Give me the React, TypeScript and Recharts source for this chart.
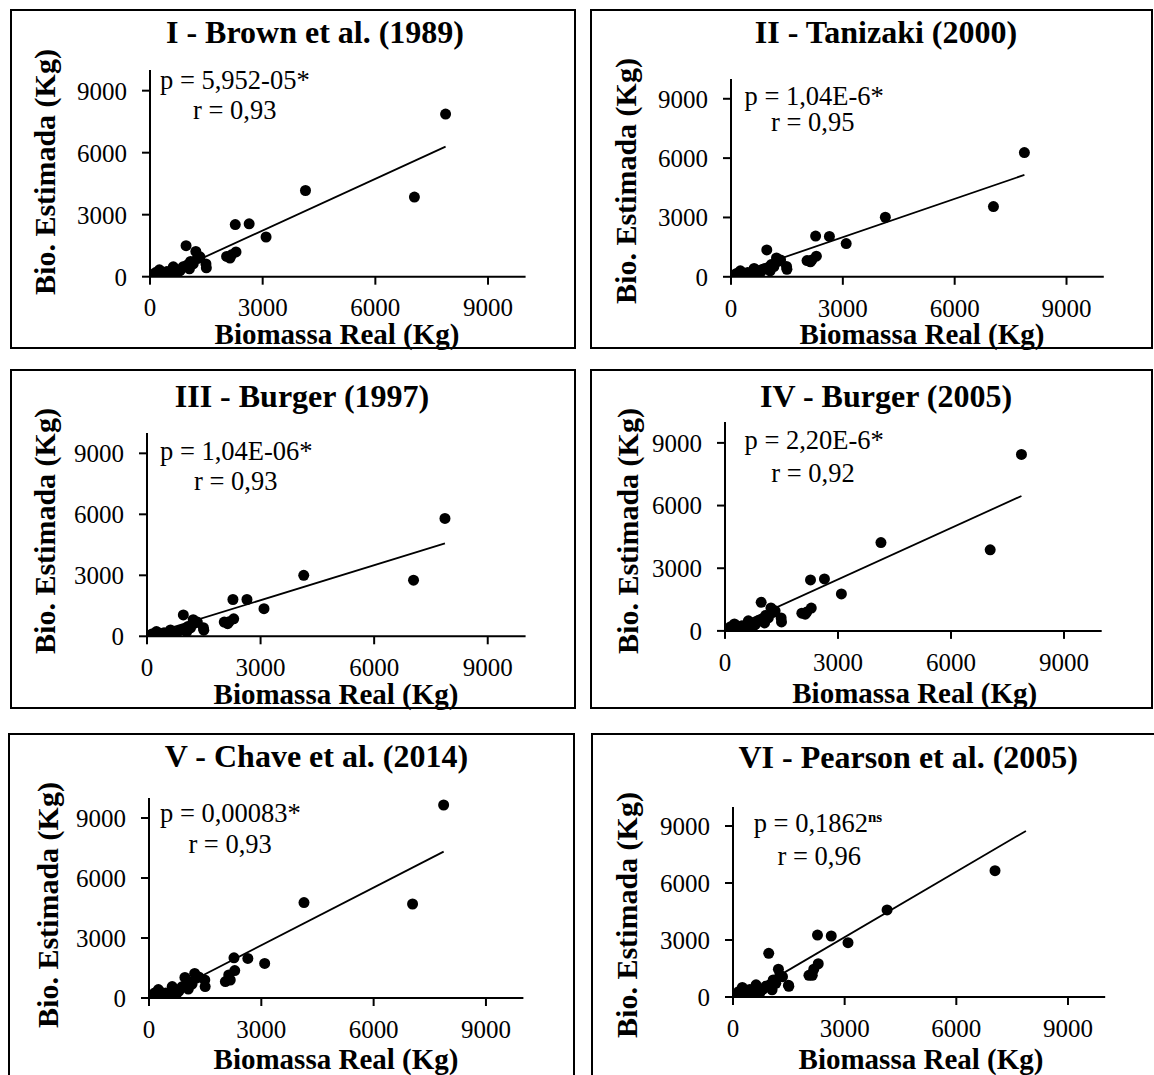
import React from 'react';
import { ScatterChart, Scatter, XAxis, YAxis } from 'recharts';

const FONT = '"Liberation Serif", "Times New Roman", Times, serif';

// Real biomass (kg) of the sampled trees (shared x values)
const realBiomass = [50, 100, 150, 200, 250, 300, 350, 450, 550, 620, 650, 720, 800, 880, 960, 990, 1050, 1080, 1150, 1220, 1260, 1330, 1490, 1500, 2040, 2130, 2170, 2270, 2290, 2640, 3090, 4140, 7040, 7870];

// Estimated biomass (kg) per allometric equation
const brown1989 = [60, 120, 200, 90, 330, 250, 180, 250, 200, 480, 280, 150, 300, 480, 1500, 560, 380, 740, 620, 1220, 880, 960, 620, 430, 980, 900, 1060, 2520, 1200, 2560, 1920, 4170, 3850, 7870];
const tanizaki2000 = [50, 100, 170, 80, 300, 220, 150, 220, 160, 420, 230, 120, 250, 400, 1360, 450, 300, 620, 520, 950, 780, 850, 520, 380, 820, 760, 850, 2060, 1040, 2040, 1680, 3010, 3550, 6280];
const burger1997 = [40, 80, 130, 60, 230, 170, 120, 170, 130, 310, 180, 100, 200, 300, 1050, 350, 230, 480, 420, 820, 650, 700, 420, 300, 700, 620, 720, 1810, 860, 1810, 1360, 3000, 2760, 5800];
const burger2005 = [60, 120, 200, 90, 330, 250, 180, 250, 200, 480, 280, 150, 300, 480, 1370, 560, 380, 740, 620, 1100, 880, 960, 620, 430, 850, 800, 900, 2440, 1090, 2490, 1770, 4230, 3880, 8450];
const chave2014 = [60, 130, 250, 100, 420, 300, 200, 250, 220, 570, 300, 150, 350, 560, 1030, 650, 450, 800, 700, 1230, 1000, 1050, 900, 570, 820, 1150, 900, 2010, 1370, 1980, 1730, 4770, 4700, 9650];
const pearson2005 = [70, 150, 280, 120, 500, 380, 260, 400, 300, 640, 380, 220, 400, 560, 2300, 650, 380, 900, 720, 1460, 1150, 1070, 620, 560, 1140, 1140, 1460, 3260, 1750, 3210, 2860, 4580, 6650, null];

// Trend lines (start, end)
const trendX = [350, 7870];
const trendBrown1989 = [30, 6290];
const trendTanizaki2000 = [290, 5150];
const trendBurger1997 = [255, 4570];
const trendBurger2005 = [290, 6460];
const trendChave2014 = [84, 7320];
const trendPearson2005 = [108, 8740];

const axisTicks = [0, 3000, 6000, 9000];
const axisDomain = [0, 10000];

const panelTitles = ['I - Brown et al. (1989)', 'II - Tanizaki (2000)', 'III - Burger (1997)', 'IV - Burger (2005)', 'V - Chave et al. (2014)', 'VI - Pearson et al. (2005)'];
const pLabels = ['p = 5,952-05*', 'p = 1,04E-6*', 'p = 1,04E-06*', 'p = 2,20E-6*', 'p = 0,00083*', 'p = 0,1862'];
const pSuperscripts = ['', '', '', '', '', 'ns'];
const rLabels = ['r = 0,93', 'r = 0,95', 'r = 0,93', 'r = 0,92', 'r = 0,93', 'r = 0,96'];
const xAxisLabel = 'Biomassa Real (Kg)';
const yAxisLabel = 'Bio. Estimada (Kg)';

const estimates = [brown1989, tanizaki2000, burger1997, burger2005, chave2014, pearson2005];
const trends = [trendBrown1989, trendTanizaki2000, trendBurger1997, trendBurger2005, trendChave2014, trendPearson2005];

// Layout (pixels)
type Layout = {
  box: number[];
  plot: number[];
  title: number[];
  ylab: number[];
  xlab: number[];
  p: number[];
  r: number[];
};
const layouts: Layout[] = [
  { box: [10, 9, 576, 349], plot: [150, 70.3, 525.6, 277], title: [315, 43], ylab: [44, 172], xlab: [337, 344], p: [160, 89], r: [193, 119] },
  { box: [590, 9, 1153, 349], plot: [731, 79.2, 1103.8, 277], title: [886, 43], ylab: [625, 181], xlab: [922, 344], p: [744.5, 105], r: [771, 131] },
  { box: [10, 369, 576, 709], plot: [147, 432.7, 525.6, 636], title: [302, 406.7], ylab: [44, 531], xlab: [336, 704], p: [160, 460], r: [194, 490] },
  { box: [590, 369, 1153, 709], plot: [725, 422.1, 1101.7, 631], title: [886, 406.7], ylab: [627, 531], xlab: [914.7, 702.5], p: [744.5, 449.3], r: [771.3, 481.7] },
  { box: [8, 733, 575, 1100], plot: [149, 798, 523.4, 998], title: [316.5, 766.7], ylab: [47.8, 905], xlab: [336, 1069], p: [160, 821.7], r: [188.4, 852.7] },
  { box: [591, 733, 1160, 1100], plot: [733, 807, 1105.2, 997], title: [908.2, 768.3], ylab: [626.7, 915], xlab: [921, 1069], p: [753.7, 831.7], r: [777.6, 865] },
];

const ML = 110;
const MT = 12;
const MR = 12;
const MB = 70;

const Dot = (props: any) => {
  if (props.cx == null || props.cy == null) return <g />;
  return <circle cx={props.cx} cy={props.cy} r={5.5} fill="#000" />;
};
const NoDot = () => <g />;

const tickStyle = { fontSize: 25, fill: '#000', fontFamily: FONT };

function Panel({ idx }: { idx: number }) {
  const lay = layouts[idx];
  const [pl, pt, pr, pb] = lay.plot;
  const w = pr - pl + ML + MR;
  const h = pb - pt + MT + MB;
  const ys = estimates[idx];
  const points = realBiomass
    .map((x, i) => ({ x, y: ys[i] }))
    .filter((d) => d.y !== null && d.y !== undefined);
  const tr = trends[idx];
  const line = trendX.map((x, i) => ({ x, y: tr[i] }));
  return (
    <div style={{ position: 'absolute', left: pl - ML, top: pt - MT, width: w, height: h }}>
      <ScatterChart width={w} height={h} margin={{ top: MT, right: MR, bottom: 0, left: 0 }}>
        <XAxis
          type="number"
          dataKey="x"
          domain={axisDomain}
          ticks={axisTicks}
          interval={0}
          height={MB}
          tickSize={8}
          tickMargin={14}
          axisLine={{ stroke: '#000', strokeWidth: 2 }}
          tickLine={{ stroke: '#000', strokeWidth: 2 }}
          tick={tickStyle}
          allowDataOverflow
        />
        <YAxis
          type="number"
          dataKey="y"
          domain={axisDomain}
          ticks={axisTicks}
          interval={0}
          width={ML}
          tickSize={8}
          tickMargin={15}
          axisLine={{ stroke: '#000', strokeWidth: 2 }}
          tickLine={{ stroke: '#000', strokeWidth: 2 }}
          tick={tickStyle}
          allowDataOverflow
        />
        <Scatter data={points} shape={Dot} isAnimationActive={false} />
        <Scatter
          data={line}
          shape={NoDot}
          line={{ stroke: '#000', strokeWidth: 1.8 }}
          lineType="joint"
          isAnimationActive={false}
        />
      </ScatterChart>
    </div>
  );
}

export default function App() {
  return (
    <div style={{ position: 'absolute', left: 0, top: 0, width: 1154, height: 1075, overflow: 'hidden', background: '#fff' }}>
      {layouts.map((lay, i) => (
        <div
          key={'box' + i}
          style={{
            position: 'absolute',
            left: lay.box[0],
            top: lay.box[1],
            width: lay.box[2] - lay.box[0],
            height: lay.box[3] - lay.box[1],
            border: '2px solid #000',
            boxSizing: 'border-box',
          }}
        />
      ))}
      {layouts.map((_, i) => (
        <Panel key={'p' + i} idx={i} />
      ))}
      <svg width={1154} height={1075} style={{ position: 'absolute', left: 0, top: 0, pointerEvents: 'none' }}>
        {layouts.map((lay, i) => (
          <g key={'t' + i} fontFamily={FONT} fill="#000">
            <text x={lay.title[0]} y={lay.title[1]} textAnchor="middle" fontSize={32} fontWeight="bold">
              {panelTitles[i]}
            </text>
            <text
              x={lay.ylab[0]}
              y={lay.ylab[1]}
              textAnchor="middle"
              dominantBaseline="central"
              fontSize={30}
              fontWeight="bold"
              transform={`rotate(-90 ${lay.ylab[0]} ${lay.ylab[1]})`}
            >
              {yAxisLabel}
            </text>
            <text x={lay.xlab[0]} y={lay.xlab[1]} textAnchor="middle" fontSize={29} fontWeight="bold">
              {xAxisLabel}
            </text>
            <text x={lay.p[0]} y={lay.p[1]} fontSize={26.5}>
              {pLabels[i]}
              {pSuperscripts[i] ? (
                <tspan fontSize={15} fontWeight="bold" dy={-10}>
                  {pSuperscripts[i]}
                </tspan>
              ) : null}
            </text>
            <text x={lay.r[0]} y={lay.r[1]} fontSize={26.5}>
              {rLabels[i]}
            </text>
          </g>
        ))}
      </svg>
    </div>
  );
}
